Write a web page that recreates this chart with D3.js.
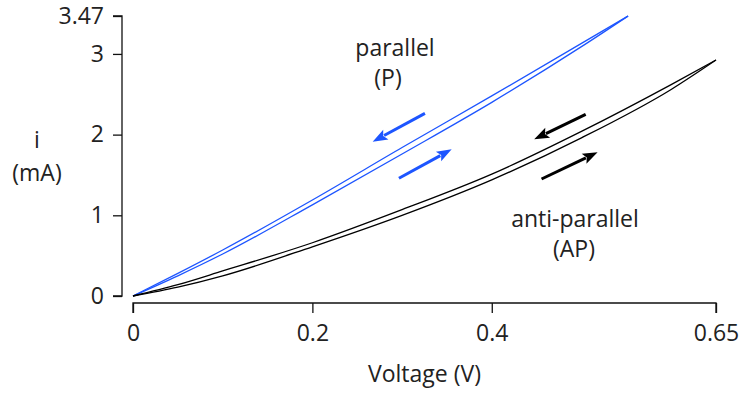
<!DOCTYPE html>
<html>
<head>
<meta charset="utf-8">
<script src="https://cdn.jsdelivr.net/npm/d3@7"></script>
<style>
  html, body { margin: 0; padding: 0; background: #fff; }
  svg text { font-family: "Open Sans", sans-serif; fill: #222; }
</style>
</head>
<body>
<svg id="chart" width="752" height="394"></svg>
<script>
// parallel (P) state: up sweep / down sweep
var pVoltage = [0, 0.05, 0.1, 0.2, 0.3, 0.4, 0.5, 0.552];
var pUp      = [0, 0.25, 0.52, 1.13, 1.76, 2.40, 3.09, 3.47];
var pDown    = [0, 0.28, 0.57, 1.19, 1.84, 2.48, 3.13, 3.47];

// anti-parallel (AP) state
var apVoltage = [0, 0.05, 0.1, 0.2, 0.3, 0.4, 0.5, 0.6, 0.65];
var apUp      = [0, 0.11, 0.25, 0.61, 1.00, 1.44, 1.96, 2.56, 2.925];
var apDown    = [0, 0.14, 0.31, 0.66, 1.07, 1.51, 2.04, 2.62, 2.925];

var xTicks = [0, 0.2, 0.4, 0.65];
var yTicks = [0, 1, 2, 3, 3.47];

// sweep direction arrows [v0, i0, v1, i1]
var pArrows  = [[0.3255, 2.264, 0.2672, 1.912], [0.2965, 1.459, 0.3553, 1.818]];
var apArrows = [[0.5047, 2.252, 0.4473, 1.942], [0.4555, 1.450, 0.5180, 1.781]];

var BLUE = '#1d55ff';
var svg = d3.select('#chart');

var x = d3.scaleLinear().domain([0, 0.65]).range([133, 716]);
var y = d3.scaleLinear().domain([0, 3.47]).range([296, 16]);

// axes (detached from plot area)
var xAxis = svg.append('g')
  .attr('transform', 'translate(0,303)')
  .call(d3.axisBottom(x).tickValues(xTicks).tickSize(10).tickPadding(12)
    .tickFormat(function(d) { return d === 0 ? '0' : String(d); }));
var yAxis = svg.append('g')
  .attr('transform', 'translate(122,0)')
  .call(d3.axisLeft(y).tickValues(yTicks).tickSize(9).tickPadding(9)
    .tickFormat(function(d) { return String(d); }));

[xAxis, yAxis].forEach(function(g) {
  g.select('.domain').attr('stroke', '#111').attr('stroke-width', 1.3);
  g.selectAll('.tick line').attr('stroke', '#111').attr('stroke-width', 1.3);
  g.selectAll('.tick text')
    .attr('font-family', '"Open Sans", sans-serif')
    .attr('font-size', 23)
    .attr('fill', '#222');
});
xAxis.select('.domain').attr('d', 'M' + x(0) + ',10V0H' + x(0.65) + 'V10');
yAxis.select('.domain').attr('d', 'M-9,' + y(3.47) + 'H0V' + y(0) + 'H-9');

var line = d3.line()
  .x(function(d) { return x(d[0]); })
  .y(function(d) { return y(d[1]); })
  .curve(d3.curveMonotoneX);

function series(vs, is) { return vs.map(function(v, k) { return [v, is[k]]; }); }

var curves = [
  { data: series(pVoltage, pUp), color: BLUE },
  { data: series(pVoltage, pDown), color: BLUE },
  { data: series(apVoltage, apUp), color: '#000' },
  { data: series(apVoltage, apDown), color: '#000' }
];

svg.selectAll('.curve')
  .data(curves)
  .enter().append('path')
  .attr('class', 'curve')
  .attr('fill', 'none')
  .attr('stroke', function(d) { return d.color; })
  .attr('stroke-width', 1.3)
  .attr('d', function(d) { return line(d.data); });

function drawArrow(a, color) {
  var x0 = x(a[0]), y0 = y(a[1]), x1 = x(a[2]), y1 = y(a[3]);
  var dx = x1 - x0, dy = y1 - y0, len = Math.sqrt(dx * dx + dy * dy);
  var ux = dx / len, uy = dy / len;
  var headL = 15, headW = 5.5;
  var bx = x1 - ux * headL, by = y1 - uy * headL;
  svg.append('line')
    .attr('x1', x0).attr('y1', y0)
    .attr('x2', bx + ux * 2).attr('y2', by + uy * 2)
    .attr('stroke', color).attr('stroke-width', 3);
  svg.append('path')
    .attr('d', 'M' + x1 + ',' + y1 +
      'L' + (bx - uy * headW) + ',' + (by + ux * headW) +
      'L' + (bx + ux * 3) + ',' + (by + uy * 3) +
      'L' + (bx + uy * headW) + ',' + (by - ux * headW) + 'Z')
    .attr('fill', color);
}
pArrows.forEach(function(a) { drawArrow(a, BLUE); });
apArrows.forEach(function(a) { drawArrow(a, '#000'); });

// labels
var labels = [
  { t: 'parallel', x: 395, y: 56 },
  { t: '(P)', x: 388, y: 86 },
  { t: 'anti-parallel', x: 575, y: 227 },
  { t: '(AP)', x: 574, y: 257 },
  { t: 'i', x: 37, y: 148 },
  { t: '(mA)', x: 37, y: 181 },
  { t: 'Voltage (V)', x: 424.5, y: 382 }
];
svg.selectAll('.lbl')
  .data(labels)
  .enter().append('text')
  .attr('class', 'lbl')
  .attr('x', function(d) { return d.x; })
  .attr('y', function(d) { return d.y; })
  .attr('text-anchor', 'middle')
  .attr('font-size', 23)
  .text(function(d) { return d.t; });
</script>
</body>
</html>
